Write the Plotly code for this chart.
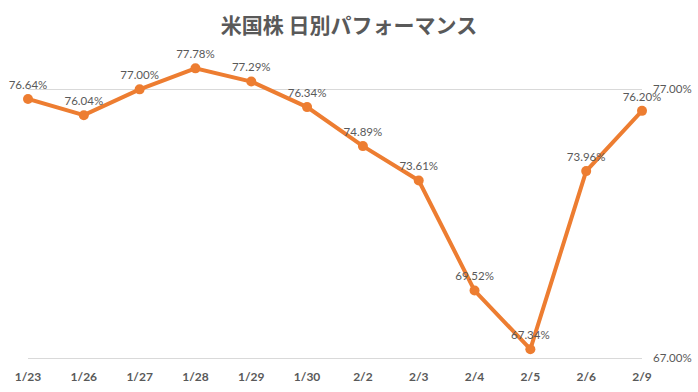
import plotly.graph_objects as go

dates = ["1/23", "1/26", "1/27", "1/28", "1/29", "1/30", "2/2", "2/3", "2/4", "2/5", "2/6", "2/9"]
values = [76.64, 76.04, 77.00, 77.78, 77.29, 76.34, 74.89, 73.61, 69.52, 67.34, 73.96, 76.20]
y_ticks = [67, 77]
y_tick_labels = ["67.00%", "77.00%"]
title_text = "米国株 日別パフォーマンス"

fig = go.Figure()
fig.add_trace(go.Scatter(
    x=dates, y=values,
    mode="lines+markers+text",
    line=dict(color="#ED7D31", width=4),
    marker=dict(color="#ED7D31", size=10),
    text=[f"{v:.2f}%" for v in values],
    textposition="top center",
    textfont=dict(family="Lato, Noto Sans, sans-serif", size=11.5, color="#595959"),
    cliponaxis=False,
    showlegend=False,
    hoverinfo="skip",
))

fig.update_layout(
    template="none",
    width=698, height=392,
    paper_bgcolor="white", plot_bgcolor="white",
    margin=dict(l=28, r=56, t=49, b=31, autoexpand=False),
    title=dict(text=title_text, x=0.5, xanchor="center", y=1 - 26 / 392, yanchor="middle",
               font=dict(family="Noto Sans CJK JP, sans-serif", size=21, color="#595959",
                         weight="bold")),
    xaxis=dict(type="category", range=[0, 11], showgrid=False, zeroline=False,
               showline=False, ticks="", automargin=False, ticklabelstandoff=7,
               tickfont=dict(family="Lato, Noto Sans, sans-serif", size=12, color="#595959",
                             weight="bold")),
    yaxis=dict(range=[66.9, 78.5], side="right", tickvals=y_ticks, ticktext=y_tick_labels,
               showgrid=True, gridcolor="#D9D9D9", gridwidth=1, zeroline=False,
               showline=False, ticks="", ticklabelstandoff=10, automargin=False,
               tickfont=dict(family="Lato, Noto Sans, sans-serif", size=11.5, color="#595959")),
)

fig.write_html("out.html", config={"displayModeBar": False},
               post_script="document.body.style.margin='0';")
